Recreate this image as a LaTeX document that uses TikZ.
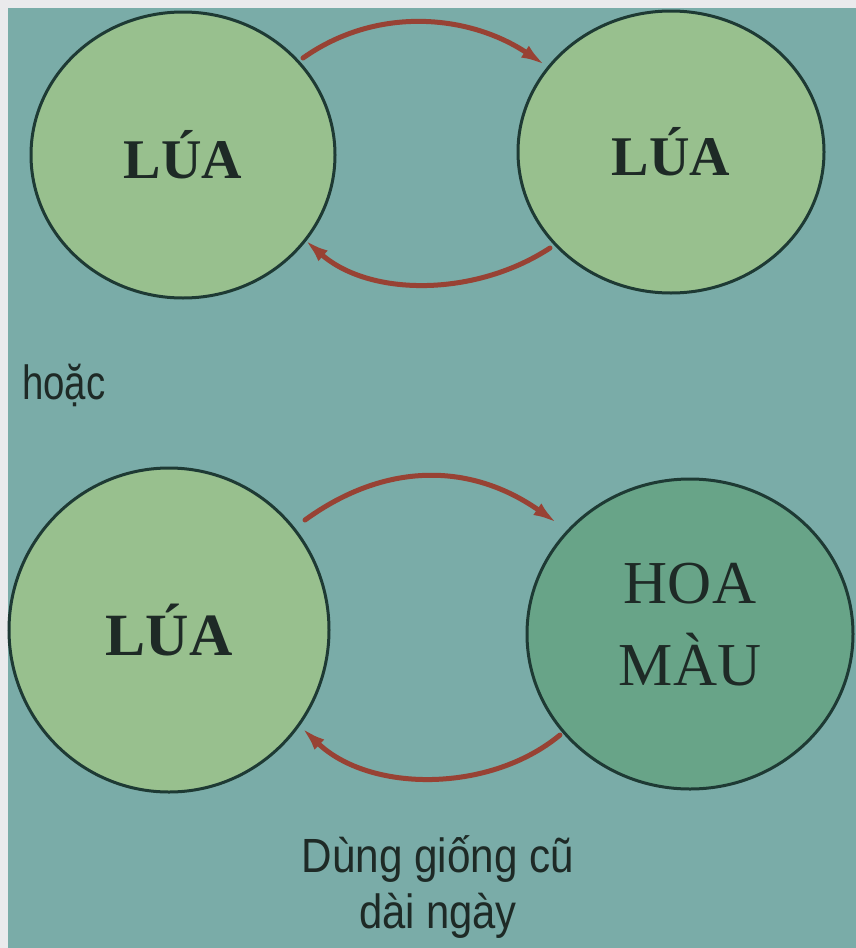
\documentclass[tikz,border=0pt]{standalone}
\usepackage{fontspec}
\usepackage{graphicx}
\setmainfont{Liberation Serif}
\newfontfamily\arialf{Liberation Sans}
\usetikzlibrary{shapes.geometric,arrows.meta,calc}
\definecolor{paper}{RGB}{234,234,236}
\definecolor{bgteal}{RGB}{122,172,168}
\definecolor{lightgreen}{RGB}{152,192,142}
\definecolor{darkgreen}{RGB}{104,164,136}
\definecolor{outline}{RGB}{30,58,52}
\definecolor{arrowred}{RGB}{152,66,52}
\definecolor{ink}{RGB}{30,42,38}
\begin{document}
\begin{tikzpicture}[x=1pt,y=-1pt,
  crop/.style={ellipse,draw=outline,line width=3pt,inner sep=0pt,text=ink},
  luatop/.style={crop,fill=lightgreen,font=\fontsize{56}{60}\selectfont\bfseries},
  luabot/.style={crop,fill=lightgreen,font=\fontsize{60}{64}\selectfont\bfseries},
  hoamau/.style={crop,fill=darkgreen,align=center,font=\fontsize{61}{82}\selectfont},
  cyc/.style={draw=arrowred,line width=5pt,line cap=round,-{Latex[length=24pt,width=14pt]}},
  note/.style={text=ink,font=\arialf\fontsize{48}{56}\selectfont,inner sep=0pt}]
\useasboundingbox (0,0) rectangle (856,948);
\fill[paper] (0,0) rectangle (856,948);
\fill[bgteal] (8,8) rectangle (856,948);
% top pair
\node[luatop,minimum width=304pt,minimum height=286pt] (a1) at (183,155) {LÚA};
\node[luatop,minimum width=306pt,minimum height=282pt] (a2) at (671,152) {LÚA};
\draw[cyc] ($(a1.center)+(120,-97)$) .. controls (378,5) and (470,15) .. ($(a2.center)+(-126,-87)$);
\draw[cyc] ($(a2.center)+(-121,96)$) .. controls (475,297) and (370,297) .. ($(a1.center)+(122,85)$);
% or
\node[note,anchor=base west] (or) at (22,399) {\scalebox{0.80}[1]{hoặc}};
% bottom pair
\node[luabot,minimum width=320pt,minimum height=324pt] (b1) at (169,630) {LÚA};
\node[hoamau,minimum width=326pt,minimum height=310pt,text depth=20pt] (b2) at (690,634) {HOA\\MÀU};
\draw[cyc] ($(b1.center)+(136,-110)$) .. controls (385,462) and (470,462) .. ($(b2.center)+(-133,-111)$);
\draw[cyc] ($(b2.center)+(-130,101)$) .. controls (490,793) and (370,793) .. ($(b1.center)+(133,98)$);
% caption
\node[note,anchor=base] (cap1) at (438,872) {\scalebox{0.88}[1]{Dùng giống cũ}};
\node[note,anchor=base] (cap2) at (438,928) {\scalebox{0.87}[1]{dài ngày}};
\end{tikzpicture}
\end{document}
